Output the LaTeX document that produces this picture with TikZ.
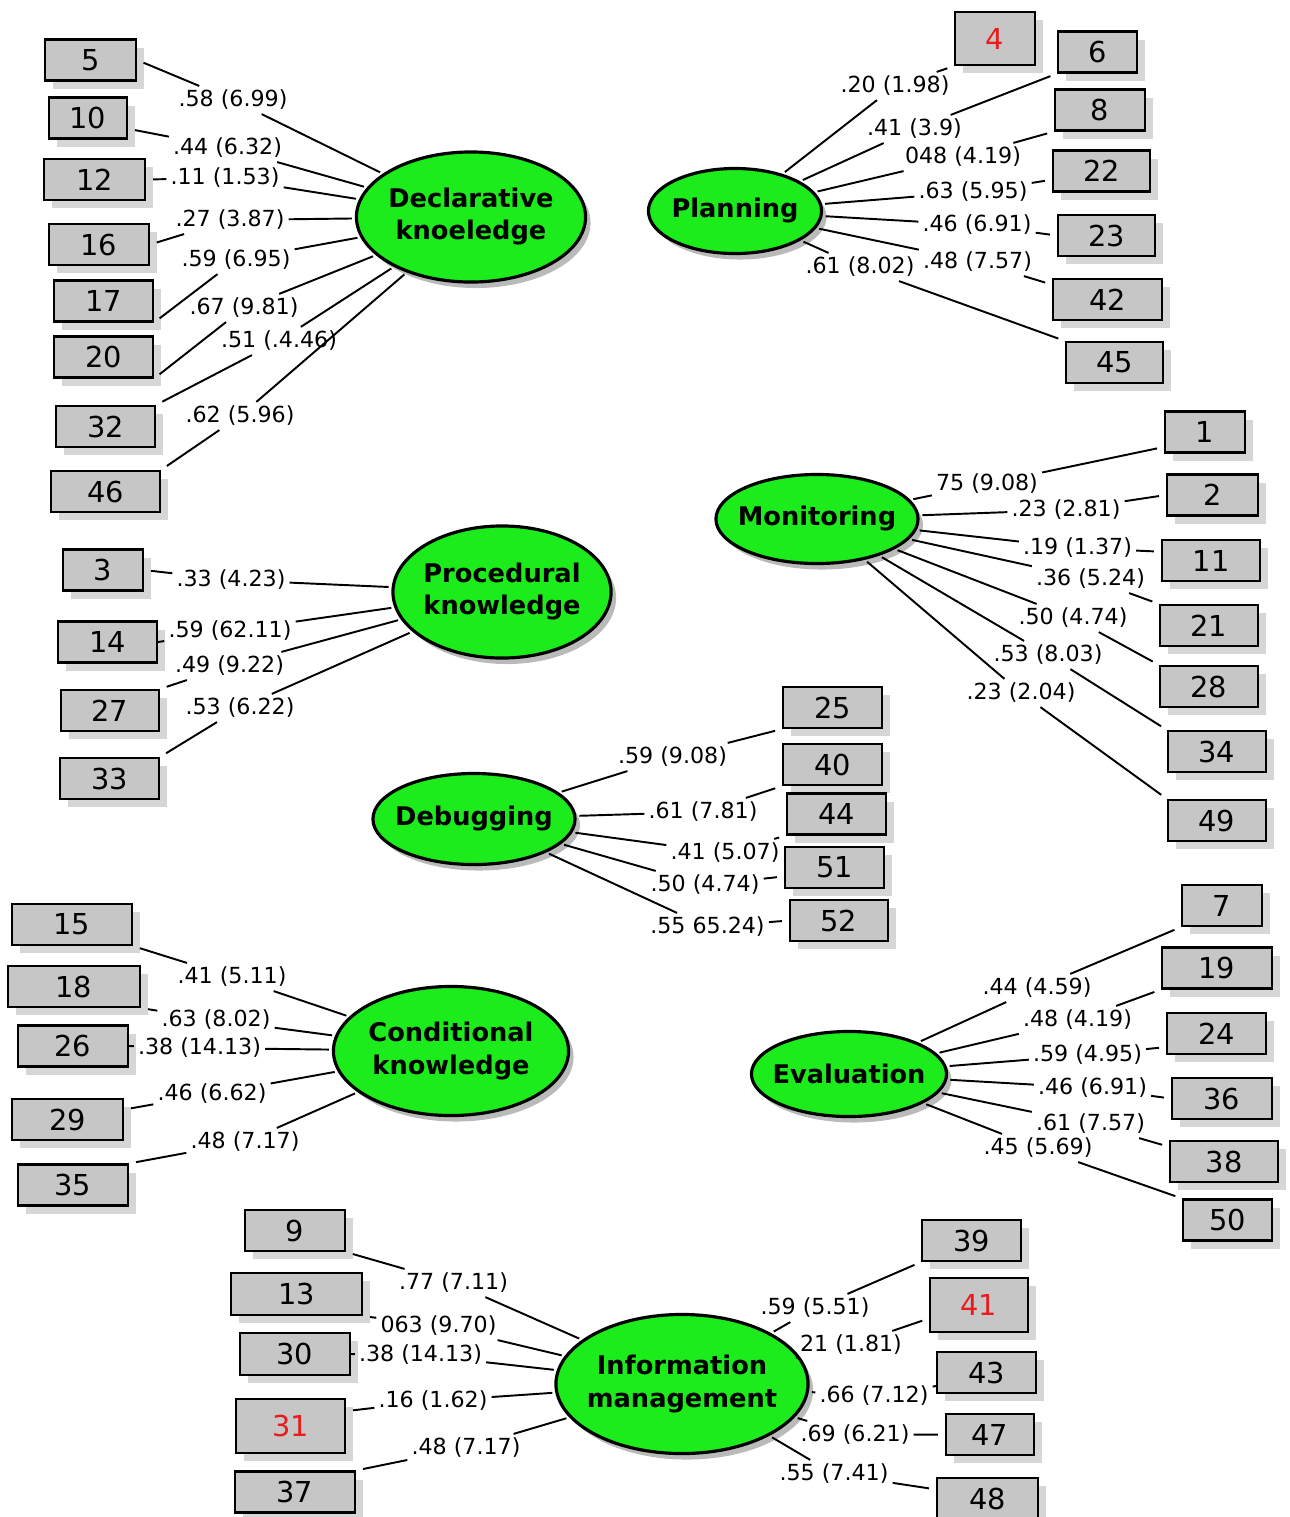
\documentclass[tikz,border=0pt]{standalone}
\usepackage{fontspec}
\setmainfont{DejaVu Sans}
\usetikzlibrary{shapes.geometric,shadows}
\definecolor{latgreen}{RGB}{28,236,28}
\definecolor{boxgray}{RGB}{198,198,198}
\definecolor{shadegray}{RGB}{214,214,214}
\definecolor{numred}{RGB}{232,28,28}
\newcommand{\numfont}{\fontsize{8.2}{9.5}\selectfont}
\newcommand{\wtfont}{\fontsize{6.3}{7.5}\selectfont}
\newcommand{\latfont}{\fontsize{7.3}{9.1}\selectfont\bfseries}
\begin{document}
\begin{tikzpicture}[x=0.01cm,y=-0.01cm,
	latent/.style={ellipse,draw,line width=0.9pt,fill=latgreen,font=\latfont,align=center,inner sep=-3pt,
		drop shadow={shadow xshift=0.05cm,shadow yshift=-0.06cm,fill=black!27,opacity=1}},
	item/.style={rectangle,draw,line width=0.6pt,fill=boxgray,font=\numfont,minimum height=0.41cm,inner sep=0pt,
		drop shadow={shadow xshift=0.08cm,shadow yshift=-0.08cm,fill=shadegray,opacity=1}},
	wt/.style={font=\wtfont,inner sep=1pt},
	tolat/.style={draw,line width=0.55pt,shorten >=0.03cm},
	tobox/.style={draw,line width=0.55pt,shorten >=0.07cm},
	tonear/.style={draw,line width=0.55pt}]
	
	\useasboundingbox (0,0) rectangle (1290,1517);
	
	%declarative
	\node[latent,minimum width=2.29cm,minimum height=1.30cm](D) at (471,217) {Declarative\\knoeledge};
	\node[item,minimum width=0.91cm](i5) at (90.5,60) {5};
	\node[item,minimum width=0.78cm](i10) at (88,118) {10};
	\node[item,minimum width=1.01cm](i12) at (94.5,179.5) {12};
	\node[item,minimum width=1.00cm](i16) at (99,244.5) {16};
	\node[item,minimum width=0.99cm](i17) at (103.5,301) {17};
	\node[item,minimum width=0.99cm](i20) at (103.5,357) {20};
	\node[item,minimum width=0.99cm](i32) at (105.5,426.5) {32};
	\node[item,minimum width=1.09cm](i46) at (105.5,491.5) {46};
	\node[wt](w5) at (233,100) {.58 (6.99)};
	\node[wt](w10) at (227.5,148) {.44 (6.32)};
	\node[wt](w12) at (225,178) {.11 (1.53)};
	\node[wt](w16) at (230,220) {.27 (3.87)};
	\node[wt](w17) at (236,260) {.59 (6.95)};
	\node[wt](w20) at (244,308) {.67 (9.81)};
	\node[wt](w32) at (279,341) {.51 (.4.46)};
	\node[wt](w46) at (240,416) {.62 (5.96)};
	\path (w5) edge[tolat] (D) edge[tobox] (i5.east);
	\path (w10) edge[tolat] (D) edge[tobox] (i10.345);
	\path (w12) edge[tolat] (D) edge[tobox] (i12.east);
	\path (w16) edge[tolat] (D) edge[tobox] (i16.east);
	\path (w17) edge[tolat] (D) edge[tobox] (i17.south east);
	\path (w20) edge[tolat] (D) edge[tobox] (i20.south east);
	\path (w32) edge[tolat] (D) edge[tobox] (i32.north east);
	\path (w46) edge[tolat] (D) edge[tobox] (i46.north east);
	
	%planning
	\node[latent,minimum width=1.73cm,minimum height=0.85cm](P) at (735,211) {Planning};
	\node[item,minimum width=0.80cm,minimum height=0.53cm,text=numred](i4) at (995,38.5) {4};
	\node[item,minimum width=0.79cm](i6) at (1097.5,52) {6};
	\node[item,minimum width=0.90cm](i8) at (1100,110) {8};
	\node[item,minimum width=0.97cm](i22) at (1101.5,171) {22};
	\node[item,minimum width=0.97cm](i23) at (1106.5,235.5) {23};
	\node[item,minimum width=1.09cm](i42) at (1107.5,299.5) {42};
	\node[item,minimum width=0.97cm](i45) at (1114.5,362.5) {45};
	\node[wt](w4) at (895,86) {.20 (1.98)};
	\node[wt](w6) at (914.5,129) {.41 (3.9)};
	\node[wt](w8) at (963,157) {048 (4.19)};
	\node[wt](w22) at (973,192) {.63 (5.95)};
	\node[wt](w23) at (977,225) {.46 (6.91)};
	\node[wt](w42) at (977.5,262) {.48 (7.57)};
	\node[wt](w45) at (860,267) {.61 (8.02)};
	\path (w4) edge[tolat] (P) edge[tobox] (i4.south west);
	\path (w6) edge[tolat] (P) edge[tobox] (i6.south west);
	\path (w8) edge[tolat] (P) edge[tobox] (i8.south west);
	\path (w22) edge[tolat] (P) edge[tobox] (i22.190);
	\path (w23) edge[tolat] (P) edge[tobox] (i23.west);
	\path (w42) edge[tolat] (P) edge[tobox] (i42.165);
	\path (w45) edge[tolat] (P) edge[tobox] (i45.north west);
	
	%monitoring
	\node[latent,minimum width=2.02cm,minimum height=0.89cm](M) at (817,519) {Monitoring};
	\node[item,minimum width=0.80cm](i1) at (1205,432) {1};
	\node[item,minimum width=0.91cm](i2) at (1212.5,495) {2};
	\node[item,minimum width=0.98cm](i11) at (1211,560.5) {11};
	\node[item,minimum width=0.98cm](i21) at (1209,625.5) {21};
	\node[item,minimum width=0.98cm](i28) at (1209,686.5) {28};
	\node[item,minimum width=0.98cm](i34) at (1217,751.5) {34};
	\node[item,minimum width=0.98cm](i49) at (1217,820.5) {49};
	\node[wt](w1) at (987,484) {75 (9.08)};
	\node[wt](w2) at (1066,510) {.23 (2.81)};
	\node[wt](w11) at (1077.5,548) {.19 (1.37)};
	\node[wt](w21) at (1090.5,579) {.36 (5.24)};
	\node[wt](w28) at (1073,618) {.50 (4.74)};
	\node[wt](w34) at (1048,655) {.53 (8.03)};
	\node[wt](w49) at (1021,693) {.23 (2.04)};
	\path (w1) edge[tolat] (M) edge[tobox] (i1.200);
	\path (w2) edge[tolat] (M) edge[tobox] (i2.west);
	\path (w11) edge[tolat] (M) edge[tobox] (i11.170);
	\path (w21) edge[tolat] (M) edge[tobox] (i21.north west);
	\path (w28) edge[tolat] (M) edge[tobox] (i28.north west);
	\path (w34) edge[tolat] (M) edge[tobox] (i34.north west);
	\path (w49) edge[tolat] (M) edge[tobox] (i49.north west);
	
	%procedural
	\node[latent,minimum width=2.18cm,minimum height=1.32cm](PK) at (502,592) {Procedural\\knowledge};
	\node[item,minimum width=0.80cm](i3) at (103,570) {3};
	\node[item,minimum width=0.99cm](i14) at (107.5,642) {14};
	\node[item,minimum width=0.98cm](i27) at (110,710.5) {27};
	\node[item,minimum width=0.99cm](i33) at (109.5,778.5) {33};
	\node[wt](w3) at (231,580) {.33 (4.23)};
	\node[wt](w14) at (230,631) {.59 (62.11)};
	\node[wt](w27) at (229.5,666) {.49 (9.22)};
	\node[wt](w33) at (240,708) {.53 (6.22)};
	\path (w3) edge[tolat] (PK) edge[tobox] (i3.east);
	\path (w14) edge[tolat] (PK) edge[tonear] (i14.east);
	\path (w27) edge[tolat] (PK) edge[tobox] (i27.north east);
	\path (w33) edge[tolat] (PK) edge[tobox] (i33.north east);
	
	%debugging
	\node[latent,minimum width=2.02cm,minimum height=0.91cm](Db) at (474,819) {Debugging};
	\node[item,minimum width=0.99cm](i25) at (832.5,707.5) {25};
	\node[item,minimum width=0.99cm](i40) at (832.5,764.5) {40};
	\node[item,minimum width=0.99cm](i44) at (836.5,814) {44};
	\node[item,minimum width=0.99cm](i51) at (834.5,867.5) {51};
	\node[item,minimum width=0.98cm](i52) at (839,920.5) {52};
	\node[wt](w25) at (672.5,757) {.59 (9.08)};
	\node[wt](w40) at (703,812) {.61 (7.81)};
	\node[wt](w44) at (725,853) {.41 (5.07)};
	\node[wt](w51) at (705,885) {.50 (4.74)};
	\node[wt](w52) at (707.5,927) {.55 65.24)};
	\path (w25) edge[tolat] (Db) edge[tobox] (i25.south west);
	\path (w40) edge[tolat] (Db) edge[tobox] (i40.south west);
	\path (w44) edge[tolat] (Db) edge[tobox] (i44.south west);
	\path (w51) edge[tolat] (Db) edge[tobox] (i51.190);
	\path (w52) edge[tolat] (Db) edge[tobox] (i52.west);
	
	%conditional
	\node[latent,minimum width=2.35cm,minimum height=1.29cm](C) at (451,1051) {Conditional\\knowledge};
	\node[item,minimum width=1.20cm](i15) at (72,924.5) {15};
	\node[item,minimum width=1.32cm](i18) at (74,986.5) {18};
	\node[item,minimum width=1.10cm](i26) at (73,1046) {26};
	\node[item,minimum width=1.11cm](i29) at (67.5,1119.5) {29};
	\node[item,minimum width=1.10cm](i35) at (73,1185) {35};
	\node[wt](w15) at (232,977) {.41 (5.11)};
	\node[wt](w18) at (216,1020) {.63 (8.02)};
	\node[wt](w26) at (199.5,1048) {.38 (14.13)};
	\node[wt](w29) at (212,1094) {.46 (6.62)};
	\node[wt](w35) at (245,1142) {.48 (7.17)};
	\path (w15) edge[tolat] (C) edge[tobox] (i15.south east);
	\path (w18) edge[tolat] (C) edge[tobox] (i18.south east);
	\path (w26) edge[tolat] (C) edge[tonear] (i26.east);
	\path (w29) edge[tolat] (C) edge[tobox] (i29.10);
	\path (w35) edge[tolat] (C) edge[tobox] (i35.north east);
	
	%evaluation
	\node[latent,minimum width=1.95cm,minimum height=0.85cm](E) at (849,1074) {Evaluation};
	\node[item,minimum width=0.80cm](i7) at (1222,905.5) {7};
	\node[item,minimum width=1.10cm](i19) at (1217,968) {19};
	\node[item,minimum width=0.99cm](i24) at (1216.5,1033.5) {24};
	\node[item,minimum width=1.00cm](i36) at (1222,1098.5) {36};
	\node[item,minimum width=1.08cm](i38) at (1224,1161.5) {38};
	\node[item,minimum width=0.89cm](i50) at (1227.5,1220) {50};
	\node[wt](w7) at (1037,988) {.44 (4.59)};
	\node[wt](w19) at (1077.5,1020) {.48 (4.19)};
	\node[wt](w24) at (1087.5,1055) {.59 (4.95)};
	\node[wt](w36) at (1092.5,1088) {.46 (6.91)};
	\node[wt](w38) at (1090.5,1124) {.61 (7.57)};
	\node[wt](w50) at (1038,1148) {.45 (5.69)};
	\path (w7) edge[tolat] (E) edge[tobox] (i7.south west);
	\path (w19) edge[tolat] (E) edge[tobox] (i19.south west);
	\path (w24) edge[tolat] (E) edge[tobox] (i24.195);
	\path (w36) edge[tolat] (E) edge[tobox] (i36.west);
	\path (w38) edge[tolat] (E) edge[tobox] (i38.165);
	\path (w50) edge[tolat] (E) edge[tobox] (i50.north west);
	
	%information management
	\node[latent,minimum width=2.52cm,minimum height=1.39cm](I) at (682,1384) {Information\\management};
	\node[item,minimum width=1.00cm](i9) at (295,1230.5) {9};
	\node[item,minimum width=1.31cm,minimum height=0.42cm](i13) at (296.5,1294) {13};
	\node[item,minimum width=1.10cm,minimum height=0.42cm](i30) at (295,1354) {30};
	\node[item,minimum width=1.09cm,minimum height=0.54cm,text=numred](i31) at (290.5,1426) {31};
	\node[item,minimum width=1.20cm](i37) at (295,1492) {37};
	\node[item,minimum width=0.99cm](i39) at (971.5,1240.5) {39};
	\node[item,minimum width=0.98cm,minimum height=0.54cm,text=numred](i41) at (979,1305) {41};
	\node[item,minimum width=0.99cm](i43) at (986.5,1372.5) {43};
	\node[item,minimum width=0.88cm](i47) at (990,1434.5) {47};
	\node[item,minimum width=1.01cm](i48) at (987.5,1498.5) {48};
	\node[wt](w9) at (453.5,1283) {.77 (7.11)};
	\node[wt](w13) at (438.5,1326) {063 (9.70)};
	\node[wt](w30) at (420.5,1355) {.38 (14.13)};
	\node[wt](w31) at (433,1401) {.16 (1.62)};
	\node[wt](w37) at (466,1448) {.48 (7.17)};
	\node[wt](w39) at (815,1308) {.59 (5.51)};
	\node[wt](w41) at (851,1345) {21 (1.81)};
	\node[wt](w43) at (874,1396) {.66 (7.12)};
	\node[wt](w47) at (855,1435) {.69 (6.21)};
	\node[wt](w48) at (834,1474) {.55 (7.41)};
	\path (w9) edge[tolat] (I) edge[tobox] (i9.south east);
	\path (w13) edge[tolat] (I) edge[tobox] (i13.south east);
	\path (w30) edge[tolat] (I) edge[tonear] (i30.east);
	\path (w31) edge[tolat] (I) edge[tobox] (i31.15);
	\path (w37) edge[tolat] (I) edge[tobox] (i37.north east);
	\path (w39) edge[tolat] (I) edge[tobox] (i39.south west);
	\path (w41) edge[tolat] (I) edge[tobox] (i41.195);
	\path (w43) edge[tolat] (I) edge[tonear] (i43.195);
	\path (w47) edge[tolat] (I) edge[tobox] (i47.west);
	\path (w48) edge[tolat] (I) edge[tobox] (i48.170);
	
\end{tikzpicture}
\end{document}
